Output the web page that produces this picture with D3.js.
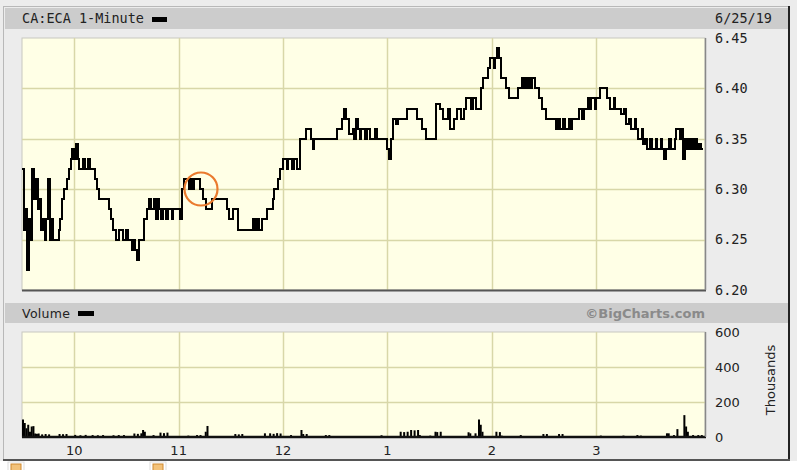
<!DOCTYPE html>
<html><head><meta charset="utf-8">
<script src="https://cdn.jsdelivr.net/npm/d3@7"></script>
<style>html,body{margin:0;padding:0;background:#fff;}svg{display:block;}</style>
</head><body>
<svg id="chart" width="797" height="470"></svg>
<script>
// ---- Data (minutes after 9:30 open; price in CAD) ----
const priceMinutes = [0,1,2,3,4,5,6,7,8,9,10,11,12,13,14,15,16,17,18,21,22,23,24,26,27,28,29,30,31,32,33,35,36,38,39,42,43,44,45,50,51,52,54,56,58,60,61,63,64,65,66,67,70,72,73,74,76,77,78,79,80,81,83,84,86,87,89,91,92,93,96,97,98,99,102,104,106,109,118,119,121,124,133,134,135,136,138,141,144,145,147,148,150,152,153,155,156,158,160,163,166,167,168,170,181,184,185,186,188,190,191,192,193,194,195,197,198,200,203,204,210,211,212,213,215,216,219,221,227,230,232,238,240,242,245,246,248,250,252,254,255,258,259,261,264,265,268,269,271,272,273,274,275,278,280,285,287,288,289,290,291,292,293,295,297,299,301,307,308,309,311,312,314,315,316,320,322,323,325,326,327,329,330,332,336,338,340,341,344,346,347,349,350,352,353,354,356,357,358,359,361,362,364,365,367,368,369,370,372,373,375,376,378,379,380,381,382,383,384,385,386,387,388,389,390];
const priceValues  = [6.32,6.26,6.28,6.22,6.27,6.25,6.32,6.29,6.31,6.28,6.29,6.26,6.27,6.25,6.27,6.31,6.25,6.27,6.25,6.26,6.27,6.29,6.30,6.31,6.32,6.33,6.34,6.33,6.345,6.33,6.32,6.33,6.32,6.33,6.32,6.31,6.30,6.29,6.29,6.28,6.27,6.26,6.25,6.26,6.25,6.26,6.25,6.24,6.25,6.24,6.23,6.25,6.27,6.28,6.29,6.28,6.29,6.27,6.29,6.28,6.27,6.28,6.27,6.28,6.27,6.28,6.28,6.27,6.30,6.31,6.30,6.31,6.30,6.31,6.30,6.29,6.28,6.29,6.28,6.27,6.28,6.26,6.27,6.26,6.27,6.26,6.27,6.28,6.29,6.30,6.31,6.32,6.33,6.32,6.33,6.32,6.33,6.32,6.35,6.36,6.35,6.34,6.35,6.35,6.36,6.37,6.38,6.37,6.355,6.36,6.35,6.37,6.36,6.35,6.36,6.35,6.36,6.35,6.36,6.35,6.34,6.33,6.35,6.37,6.365,6.37,6.37,6.38,6.37,6.36,6.35,6.385,6.38,6.37,6.38,6.36,6.37,6.38,6.37,6.38,6.39,6.38,6.39,6.38,6.40,6.41,6.42,6.43,6.42,6.43,6.44,6.43,6.41,6.40,6.39,6.40,6.41,6.40,6.41,6.40,6.41,6.40,6.41,6.40,6.39,6.38,6.37,6.36,6.37,6.36,6.37,6.36,6.37,6.36,6.37,6.38,6.37,6.38,6.39,6.38,6.39,6.38,6.39,6.40,6.39,6.38,6.39,6.38,6.375,6.38,6.365,6.37,6.36,6.37,6.36,6.35,6.36,6.345,6.35,6.34,6.35,6.34,6.35,6.34,6.35,6.34,6.33,6.34,6.35,6.34,6.35,6.36,6.35,6.36,6.33,6.35,6.34,6.35,6.34,6.35,6.34,6.35,6.34,6.345,6.34];

const volMinutes   = [0,1,2,3,4,5,6,7,8,9,11,13,15,21,23,25,30,33,36,40,43,46,52,55,58,64,66,68,69,70,75,79,81,83,95,100,102,105,106,122,124,126,139,142,144,146,148,154,160,161,163,174,176,206,217,219,221,223,225,227,228,234,237,238,240,256,257,260,262,263,264,272,274,275,286,299,301,308,310,332,345,353,355,370,371,374,376,380,381,382,385,388,390];
const volThousands = [100,80,50,70,30,60,62,20,18,20,15,17,15,17,16,17,12,10,12,11,10,11,10,11,11,20,18,21,40,30,11,25,22,25,8,11,11,30,63,17,15,17,21,21,18,22,20,11,40,17,17,11,11,10,30,28,30,40,38,40,11,8,30,28,30,27,21,21,100,70,30,30,28,8,11,17,17,17,17,8,8,11,8,21,21,11,45,125,60,30,11,11,11];

const xTickMinutes = [30,90,150,210,270,330];
const xTickLabels  = ["10","11","12","1","2","3"];
const priceTicks   = [6.20,6.25,6.30,6.35,6.40,6.45];
const volTicks     = [0,200,400,600];

// ---- Layout ----
const svg = d3.select("#chart");
const PL = 22, PR = 705;
const priceTop = 38, priceBot = 290;
const volTop = 332, volBot = 437;
const bg = "#ffffe6", grid = "#d8d7a8";

const x = d3.scaleLinear().domain([0, 393]).range([PL, PR + 1]);
const y = d3.scaleLinear().domain([6.20, 6.45]).range([priceBot, priceTop]);
const yv = d3.scaleLinear().domain([0, 600]).range([volBot, volTop]);

// page / frame
svg.append("rect").attr("x",0).attr("y",0).attr("width",797).attr("height",461).attr("fill","#ececec");
svg.append("rect").attr("x",0).attr("y",461).attr("width",797).attr("height",9).attr("fill","#ffffff");
svg.append("line").attr("x1",3.5).attr("y1",6).attr("x2",3.5).attr("y2",460).attr("stroke","#b8b8b8");
svg.append("line").attr("x1",3).attr("y1",6.5).attr("x2",789).attr("y2",6.5).attr("stroke","#b8b8b8");
svg.append("line").attr("x1",789).attr("y1",6).attr("x2",789).attr("y2",461).attr("stroke","#222").attr("stroke-width",2);
svg.append("line").attr("x1",3).attr("y1",460).attr("x2",790).attr("y2",460).attr("stroke","#555").attr("stroke-width",2);

// header bars
svg.append("rect").attr("x",5).attr("y",8).attr("width",783).attr("height",21).attr("fill","#cccccc");
svg.append("rect").attr("x",5).attr("y",303).attr("width",783).attr("height",20).attr("fill","#cccccc");

const mono = "'DejaVu Sans Mono', monospace";
const sans = "'DejaVu Sans', Verdana, sans-serif";

svg.append("text").attr("x",22).attr("y",23).attr("font-family",mono).attr("font-size",13.5).attr("fill","#222").text("CA:ECA 1-Minute");
svg.append("rect").attr("x",152).attr("y",17).attr("width",15).attr("height",5).attr("fill","#000");
svg.append("text").attr("x",772).attr("y",23).attr("text-anchor","end").attr("font-family",mono).attr("font-size",13.5).attr("fill","#222").text("6/25/19");

svg.append("text").attr("x",22).attr("y",318).attr("font-family",sans).attr("font-size",12.5).attr("fill","#222").attr("letter-spacing","0.3").text("Volume");
svg.append("rect").attr("x",78).attr("y",311).attr("width",16).attr("height",5).attr("fill","#000");
svg.append("text").attr("x",705).attr("y",318).attr("text-anchor","end").attr("font-family",sans).attr("font-weight","bold").attr("font-size",13).attr("fill","#8a8a8a").text("\u00A9BigCharts.com");

// ---- Price panel ----
svg.append("rect").attr("x",PL).attr("y",priceTop).attr("width",PR-PL).attr("height",priceBot-priceTop).attr("fill",bg).attr("stroke","#c8c8c0");
const gP = svg.append("g");
gP.selectAll("line.h").data(priceTicks.slice(1,-1)).join("line")
  .attr("x1",PL).attr("x2",PR).attr("y1",d=>Math.round(y(d))+0.5).attr("y2",d=>Math.round(y(d))+0.5)
  .attr("stroke",grid).attr("stroke-width",1.5);
gP.selectAll("line.v").data(xTickMinutes).join("line")
  .attr("x1",d=>Math.round(x(d))+0.5).attr("x2",d=>Math.round(x(d))+0.5).attr("y1",priceTop).attr("y2",priceBot)
  .attr("stroke",grid).attr("stroke-width",1.5);

const steps = priceMinutes.map((m,i)=>[m, priceValues[i]]);
steps.push([391, priceValues[priceValues.length-1]]);
svg.append("path").datum(steps)
  .attr("d", d3.line().x(d=>x(d[0])).y(d=>y(d[1])).curve(d3.curveStepAfter))
  .attr("fill","none").attr("stroke","#000").attr("stroke-width",2).attr("shape-rendering","crispEdges");

// shadow edges
svg.append("line").attr("x1",PL).attr("x2",PR+1).attr("y1",priceBot+0.5).attr("y2",priceBot+0.5).attr("stroke","#555").attr("stroke-width",2);
svg.append("line").attr("x1",PR+0.5).attr("x2",PR+0.5).attr("y1",priceTop).attr("y2",priceBot).attr("stroke","#888").attr("stroke-width",1.5);

// price axis labels
svg.append("g").selectAll("text").data(priceTicks).join("text")
  .attr("x",715).attr("y",d=>y(d)).attr("dy","0.36em")
  .attr("font-family",mono).attr("font-size",13.5).attr("fill","#222")
  .text(d=>d3.format(".2f")(d));

// orange annotation circle
svg.append("circle").attr("cx",201).attr("cy",189).attr("r",16.5)
  .attr("fill","none").attr("stroke","#ea7a2e").attr("stroke-width",2.2);

// ---- Volume panel ----
svg.append("rect").attr("x",PL).attr("y",volTop).attr("width",PR-PL).attr("height",volBot-volTop).attr("fill",bg).attr("stroke","#c8c8c0");
const gV = svg.append("g");
gV.selectAll("line.h").data([200,400]).join("line")
  .attr("x1",PL).attr("x2",PR).attr("y1",d=>Math.round(yv(d))+0.5).attr("y2",d=>Math.round(yv(d))+0.5)
  .attr("stroke",grid).attr("stroke-width",1.5);
gV.selectAll("line.v").data(xTickMinutes).join("line")
  .attr("x1",d=>Math.round(x(d))+0.5).attr("x2",d=>Math.round(x(d))+0.5).attr("y1",volTop).attr("y2",volBot)
  .attr("stroke",grid).attr("stroke-width",1.5);

svg.append("g").selectAll("rect").data(volMinutes.map((m,i)=>[m, volThousands[i]])).join("rect")
  .attr("x",d=>x(d[0])).attr("width",2)
  .attr("y",d=>yv(d[1])).attr("height",d=>volBot - yv(d[1]))
  .attr("fill","#000");
svg.append("line").attr("x1",PL).attr("x2",PR+1).attr("y1",volBot).attr("y2",volBot).attr("stroke","#111").attr("stroke-width",2.5);
svg.append("line").attr("x1",PR+0.5).attr("x2",PR+0.5).attr("y1",volTop).attr("y2",volBot).attr("stroke","#888").attr("stroke-width",1.5);

svg.append("g").selectAll("text").data(volTicks).join("text")
  .attr("x",715).attr("y",d=>yv(d)).attr("dy","0.36em")
  .attr("font-family",sans).attr("font-size",13).attr("fill","#222")
  .text(d=>d);
svg.append("text").attr("transform","translate(775,380) rotate(-90)").attr("text-anchor","middle")
  .attr("font-family",sans).attr("font-size",13).attr("fill","#222").text("Thousands");

// x axis labels
svg.append("g").selectAll("text").data(xTickMinutes).join("text")
  .attr("x",(d)=>x(d)).attr("y",455).attr("text-anchor","middle")
  .attr("font-family",sans).attr("font-size",13).attr("fill","#222")
  .text((d,i)=>xTickLabels[i]);

// little icons below frame
[[8,462],[150,462]].forEach(([ix,iy])=>{
  svg.append("rect").attr("x",ix).attr("y",iy).attr("width",16).attr("height",10).attr("fill","#fff").attr("stroke","#ddd");
  svg.append("rect").attr("x",ix+3).attr("y",iy+2).attr("width",10).attr("height",8).attr("fill","#f3c27a").attr("stroke","#d08a30");
});
</script>
</body></html>
